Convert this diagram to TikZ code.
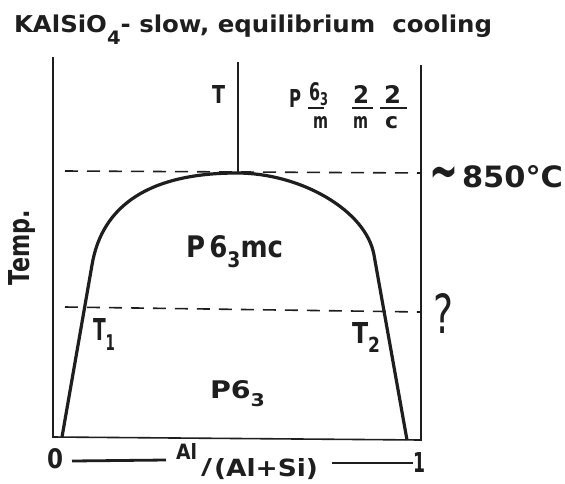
\documentclass[tikz,border=0pt]{standalone}
\usepackage{fontspec}
\usepackage{graphicx}
\setmainfont{DejaVu Sans}
\newfontfamily\qfont{DejaVu Sans}
\definecolor{ink}{HTML}{1E1E1E}
\newcommand\fitbox[3]{\resizebox{#1pt}{#2pt}{#3}}
\newcommand\lowsub[1]{\raisebox{-0.34em}{\scalebox{0.72}{#1}}}
\newcommand\midsub[1]{\raisebox{-0.22em}{\scalebox{0.72}{#1}}}
\begin{document}
\begin{tikzpicture}[x=1pt,y=-1pt,
  frame/.style={line width=1.6pt, draw=ink},
  dome/.style={line width=3.2pt, draw=ink, line join=round},
  dashline/.style={line width=1.6pt, draw=ink, dash pattern=on 13pt off 9pt},
  barline/.style={line width=1.4pt, draw=ink},
  axisdash/.style={line width=2.8pt, draw=ink},
  lab/.style={inner sep=0pt, outer sep=0pt, anchor=base west, text=ink, font=\bfseries},
  thinlab/.style={inner sep=0pt, outer sep=0pt, anchor=base west, text=ink, font=\qfont},
]
\useasboundingbox[fill=white] (0,0) rectangle (565,483);

% frame
\coordinate (tl) at (53,57);
\coordinate (bl) at (53,437);
\coordinate (br) at (421,440);
\coordinate (tr) at (421,65);
\draw[frame] (tl) -- (bl) -- (br) -- (tr);
\coordinate (ttop) at (238,62);
\coordinate (tbot) at (238,173);
\draw[frame] (ttop) -- (tbot);

% dome (phase boundary)
\draw[dome] (62,437) -- (92,265) .. controls (102,205) and (150,173) .. (237,173)
  .. controls (300,173) and (366,210) .. (374,255) -- (407,440);

% dashed isotherms
\draw[dashline] (65,171) -- (421,173);
\draw[dashline] (65,307) -- (421,312);

% title
\node[lab] (title) at (14,32) {\fitbox{478}{17.6}{KAlSiO\raisebox{-0.55em}{\scalebox{0.8}{4}}- slow, equilibrium\ \ cooling}};

% axis label
\node[lab, rotate=90] (temp) at (30,285) {\fitbox{75}{21}{Temp.}};

% upper region
\node[lab] (T) at (212,103) {\fitbox{13}{18}{T}};
\node[lab] (P) at (289,107) {\fitbox{12}{18}{P}};
\node[lab] (n1) at (309,100) {\fitbox{19}{18}{6\midsub{3}}};
\draw[barline] (308,108) -- (324,108);
\node[lab] (d1) at (313,128) {\fitbox{15}{12}{m}};
\node[lab] (n2) at (353,103) {\fitbox{16}{18}{2}};
\draw[barline] (352,108) -- (373,108);
\node[lab] (d2) at (353,128) {\fitbox{15}{12}{m}};
\node[lab] (n3) at (384,103) {\fitbox{17}{18}{2}};
\draw[barline] (380,108) -- (407,108);
\node[lab] (d3) at (385,128) {\fitbox{13}{12}{c}};

% region labels
\node[lab] (mc) at (186,257) {\fitbox{97}{22}{P\,6\lowsub{3}mc}};
\node[lab] (T1) at (93,340) {\fitbox{22}{22}{T\lowsub{1}}};
\node[lab] (T2) at (352,343) {\fitbox{28}{21}{T\lowsub{2}}};
\node[lab] (p63) at (210,398) {\fitbox{55}{18}{P6\lowsub{3}}};

% temperatures
\node[lab] (tilde) at (429,190) {\fitbox{29}{24}{∼}};
\node[lab] (temp850) at (462,187) {\fitbox{101}{22}{850°C}};
\node[thinlab] (q) at (433,333) {\fitbox{20}{40}{?}};

% composition axis
\node[lab] (zero) at (47,468) {\fitbox{16}{20}{0}};
\node[lab] (one) at (413,472) {\fitbox{12}{20}{1}};
\node[lab] (al) at (176,459) {\fitbox{21}{16}{Al}};
\node[lab] (slash) at (201,474) {\fitbox{11}{16}{/}};
\node[lab] (alsi) at (214,476) {\fitbox{104}{18}{(Al+Si)}};
\draw[axisdash] (zero.east |- 0,461) ++(9,0) coordinate (la) -- (166,460) coordinate (lb);
\draw[axisdash] (332,463) coordinate (ra) -- (one.west |- 0,463) ++(-6,0) coordinate (rb);
\end{tikzpicture}
\end{document}
